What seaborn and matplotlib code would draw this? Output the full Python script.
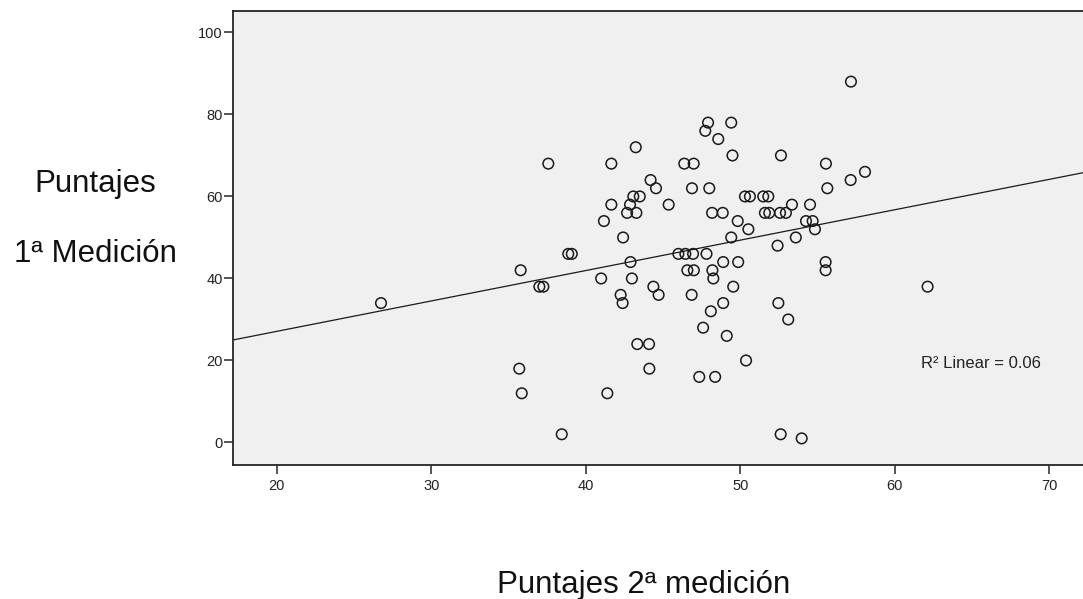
import numpy as np
import pandas as pd
import matplotlib
matplotlib.use("Agg")
import matplotlib.pyplot as plt
import seaborn as sns

# Scores: second measurement (x) vs first measurement (y)
puntajes_2 = [
    26.75, 35.79, 35.70, 35.86, 38.45, 37.00, 37.26, 38.87, 39.10, 37.58,
    41.00, 41.40, 41.66, 41.66, 41.18, 42.42, 42.90, 42.99, 42.26, 42.39,
    43.34, 44.10, 44.12, 43.24, 43.08, 43.50, 42.87, 42.68, 43.28, 44.20,
    44.55, 45.37, 44.38, 44.72, 46.00, 46.45, 46.95, 47.82, 46.58, 47.00,
    48.20, 48.26, 48.90, 49.87, 49.55, 46.86, 48.90, 48.10, 47.60, 49.13,
    47.35, 48.38, 50.38, 46.38, 46.99, 46.88, 48.00, 47.92, 47.74, 49.42,
    48.58, 49.50, 48.18, 48.87, 49.84, 50.53, 50.31, 50.63, 51.49, 51.82,
    51.60, 51.88, 52.58, 52.96, 53.35, 54.52, 54.26, 54.69, 54.84, 49.42,
    53.60, 52.42, 52.64, 55.55, 58.08, 57.15, 55.64, 57.17, 55.53, 55.53,
    52.47, 53.11, 52.62, 53.98, 62.13,
]
puntajes_1 = [
    34, 42, 18, 12, 2, 38, 38, 46, 46, 68,
    40, 12, 68, 58, 54, 50, 44, 40, 36, 34,
    24, 24, 18, 72, 60, 60, 58, 56, 56, 64,
    62, 58, 38, 36, 46, 46, 46, 46, 42, 42,
    42, 40, 44, 44, 38, 36, 34, 32, 28, 26,
    16, 16, 20, 68, 68, 62, 62, 78, 76, 78,
    74, 70, 56, 56, 54, 52, 60, 60, 60, 60,
    56, 56, 56, 56, 58, 58, 54, 54, 52, 50,
    50, 48, 70, 68, 66, 64, 62, 88, 44, 42,
    34, 30, 2, 1, 38,
]
x_ticks = [20, 30, 40, 50, 60, 70]
y_ticks = [0, 20, 40, 60, 80, 100]
r2_label = "R\u00b2 Linear = 0.06"

df = pd.DataFrame({"x": puntajes_2, "y": puntajes_1})

sns.set_theme(style="white")
plt.rcParams["font.family"] = ["Liberation Sans", "DejaVu Sans"]

W, H = 1083, 599
fig = plt.figure(figsize=(W / 100, H / 100), dpi=100)
ax = fig.add_axes([232.7 / W, 1 - 465 / H, 1 - 232.7 / W, (465 - 10.7) / H])
ax.set_facecolor("#f0f0f0")

ax.set_xlim(17.15, 72.19)
ax.set_ylim(-5.49, 105.3)

sns.scatterplot(data=df, x="x", y="y", ax=ax, marker="o", s=58,
                facecolors="none", edgecolor="#1a1a1a", linewidth=1.1,
                legend=False)
sns.regplot(data=df, x="x", y="y", ax=ax, scatter=False, ci=None,
            truncate=False, line_kws={"color": "#1a1a1a", "lw": 0.9})

ax.set_xlim(17.15, 72.19)
ax.set_ylim(-5.49, 105.3)
ax.set_xticks(x_ticks)
ax.set_yticks(y_ticks)
ax.set_xticklabels([str(v) for v in x_ticks])
ax.set_yticklabels([str(v) for v in y_ticks])
ax.set_xlabel("")
ax.set_ylabel("")

for side in ["left", "bottom", "top"]:
    ax.spines[side].set_visible(True)
    ax.spines[side].set_color("#262626")
    ax.spines[side].set_linewidth(1.3)
ax.spines["right"].set_visible(False)

ax.tick_params(axis="both", which="major", direction="out", length=6.5,
               width=1.1, color="#262626", labelsize=10.5, labelcolor="#222222")
ax.tick_params(axis="y", pad=0.8, left=True)
ax.tick_params(axis="x", pad=3.5, bottom=True)

ax.text(61.7, 18.2, r2_label, fontsize=12, color="#222222",
        ha="left", va="baseline")

fig.text(95 / W, 1 - 192 / H, "Puntajes", fontsize=22.5, ha="center",
         va="baseline", color="#111111")
fig.text(95 / W, 1 - 261.7 / H, "1\u00aa Medici\u00f3n", fontsize=22.5,
         ha="center", va="baseline", color="#111111")
fig.text(644 / W, 1 - 593 / H, "Puntajes 2\u00aa medici\u00f3n", fontsize=22.5,
         ha="center", va="baseline", color="#111111")

fig.savefig("out.png", dpi=100, facecolor="white")
